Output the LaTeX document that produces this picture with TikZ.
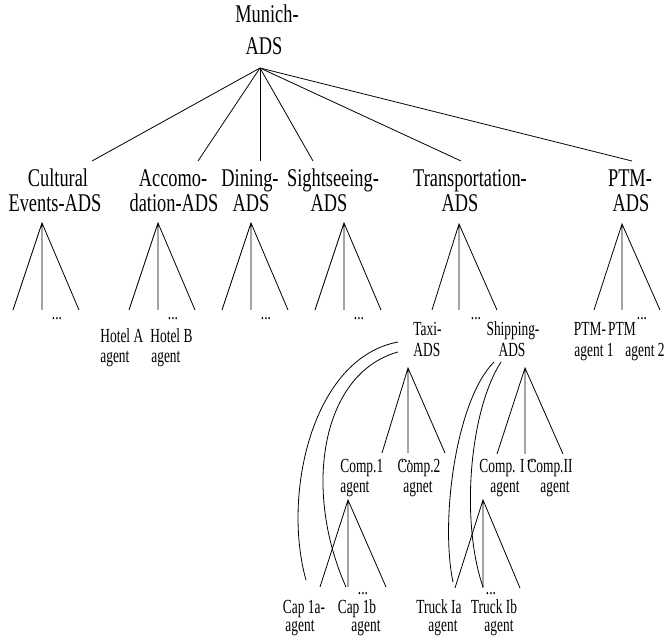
\documentclass[tikz,border=0pt]{standalone}
\usepackage{fontspec}
\newfontfamily\bigfont[FakeStretch=0.72]{Liberation Serif}
\newfontfamily\smallfont[FakeStretch=0.67]{Liberation Serif}
\begin{document}
\begin{tikzpicture}[x=1pt,y=-1pt,line width=0.8pt,
  bigtxt/.style={font=\bigfont\fontsize{25.5}{27}\selectfont,inner sep=0pt,anchor=base},
  smalltxt/.style={font=\smallfont\fontsize{20}{22}\selectfont,inner sep=0pt,anchor=base},
  lefttxt/.style={smalltxt,anchor=base west},
  arc/.style={draw=black,line width=0.8pt}]
\useasboundingbox (0,0) rectangle (665,636);
% root
\node[bigtxt] (munich1) at (267,23) {Munich-};
\node[bigtxt] (munich2) at (264,55) {ADS};
\coordinate (root) at (260,68);
% level 1 labels
\node[bigtxt] (cul1) at (58,187) {Cultural};
\node[bigtxt] (cul2) at (55,212) {Events-ADS};
\node[bigtxt] (acc1) at (173,187) {Accomo-};
\node[bigtxt] (acc2) at (174,212) {dation-ADS};
\node[bigtxt] (din1) at (250,187) {Dining-};
\node[bigtxt] (din2) at (251,212) {ADS};
\node[bigtxt] (sig1) at (333,187) {Sightseeing-};
\node[bigtxt] (sig2) at (329,212) {ADS};
\node[bigtxt] (tra1) at (470,187) {Transportation-};
\node[bigtxt] (tra2) at (460,212) {ADS};
\node[bigtxt] (ptm1) at (630,187) {PTM-};
\node[bigtxt] (ptm2) at (631,212) {ADS};
% level 1 connectors
\foreach \n/\x in {c1/92,c2/198,c3/260,c4/313,c5/461,c6/632}{
  \coordinate (\n) at (\x,161);
  \draw (root) -- (\n);
}
% fans
\foreach \n/\ax/\ay/\l/\m/\r/\ey in {
  cul/42/223/13/42/79/310,
  acc/158/223/129/158/195/310,
  din/251/223/222/251/288/310,
  sig/344/223/315/344/381/310,
  tra/459/224/432/459/497/310,
  ptm/622/224/594/622/660/310,
  taxi/408/368/382/408/445/453,
  ship/525/368/497/525/563/454,
  compa/348/500/320/348/386/587,
  compb/483/500/455/483/520/588}{
  \coordinate (\n-apex) at (\ax,\ay);
  \coordinate (\n-l) at (\l,\ey);
  \coordinate (\n-m) at (\m,\ey);
  \coordinate (\n-r) at (\r,\ey);
  \draw (\n-l) -- (\n-apex) -- (\n-r) (\n-apex) -- (\n-m);
}
% dots
\node[smalltxt] (d1) at (57,320) {...};
\node[smalltxt] (d2) at (173,320) {...};
\node[smalltxt] (d3) at (266,320) {...};
\node[smalltxt] (d4) at (359,320) {...};
\node[smalltxt] (d5) at (476,320) {...};
\node[smalltxt] (d6) at (642,320) {...};
\node[smalltxt] (d7) at (406,463) {...};
\node[smalltxt] (d8) at (532,463) {...};
\node[smalltxt] (d9) at (363,595) {...};
\node[smalltxt] (d10) at (491,595) {...};
% level 2 labels
\node[lefttxt] (hA1) at (100,343) {Hotel A};
\node[lefttxt] (hA2) at (100,363) {agent};
\node[lefttxt] (hB1) at (150,343) {Hotel B};
\node[lefttxt] (hB2) at (151,363) {agent};
\node[lefttxt] (taxi1) at (413,336) {Taxi-};
\node[lefttxt] (taxi2) at (413,357) {ADS};
\node[smalltxt] (ship1) at (513,336) {Shipping-};
\node[smalltxt] (ship2) at (512,357) {ADS};
\node[smalltxt] (pa1) at (590,336) {PTM-};
\node[smalltxt] (pa2) at (594,357) {agent 1};
\node[smalltxt] (pb1) at (622,336) {PTM};
\node[smalltxt] (pb2) at (645,357) {agent 2};
% level 3 labels
\node[lefttxt] (k11) at (340,473) {Comp.1};
\node[lefttxt] (k12) at (340,493) {agent};
\node[smalltxt] (k21) at (419,473) {Comp.2};
\node[smalltxt] (k22) at (418,493) {agnet};
\node[smalltxt] (kI1) at (502,473) {Comp. I};
\node[smalltxt] (kI2) at (505,493) {agent};
\node[smalltxt] (kII1) at (550,473) {Comp.II};
\node[smalltxt] (kII2) at (555,493) {agent};
% level 4 labels
\node[smalltxt] (cap1) at (304,613) {Cap 1a-};
\node[smalltxt] (cap2) at (300,632) {agent};
\node[smalltxt] (capb1) at (357,613) {Cap 1b};
\node[smalltxt] (capb2) at (366,632) {agent};
\node[smalltxt] (tr1) at (439,613) {Truck Ia};
\node[smalltxt] (tr2) at (443,632) {agent};
\node[smalltxt] (trb1) at (494,613) {Truck Ib};
\node[smalltxt] (trb2) at (499,632) {agent};
% arcs
\coordinate (ta1) at (398,342);
\coordinate (ta2) at (398,352);
\coordinate (tb1) at (306,580);
\coordinate (tb2) at (346,587);
\draw[arc] (ta1) .. controls (312,358) and (282,495) .. (tb1);
\draw[arc] (ta2) .. controls (322,373) and (302,488) .. (tb2);
\coordinate (sa1) at (494,362);
\coordinate (sa2) at (501,362);
\coordinate (sb1) at (453,582);
\coordinate (sb2) at (483,587);
\draw[arc] (sa1) .. controls (456,400) and (440,520) .. (sb1);
\draw[arc] (sa2) .. controls (470,410) and (460,520) .. (sb2);
\end{tikzpicture}
\end{document}
